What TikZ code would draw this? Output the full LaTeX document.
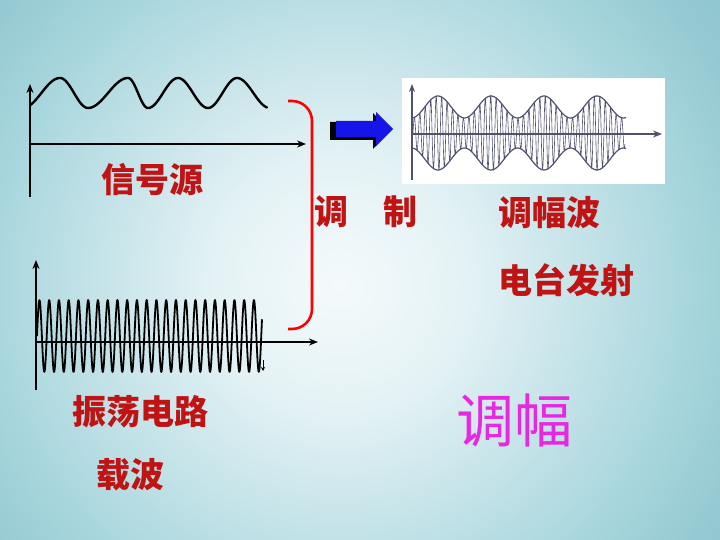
\documentclass[tikz,border=0pt]{standalone}
\usepackage{fontspec}
\newfontfamily\cjk{Noto Sans CJK SC}
\definecolor{bgteal}{RGB}{80,165,175}
\definecolor{bgA}{RGB}{244,250,251}
\definecolor{bgB}{RGB}{228,242,245}
\definecolor{bgC}{RGB}{170,215,222}
\definecolor{bgD}{RGB}{150,202,210}
\definecolor{bgE}{RGB}{135,193,202}
\definecolor{bgF}{RGB}{95,175,185}
\definecolor{txtred}{RGB}{192,20,20}
\definecolor{amgray}{RGB}{80,80,112}
\definecolor{mag}{RGB}{232,40,225}
\definecolor{arrblue}{RGB}{20,20,235}
\usetikzlibrary{arrows.meta}
\pgfdeclareradialshading{bgshade}{\pgfpoint{0bp}{0bp}}{color(0bp)=(bgA); color(3.5bp)=(bgB); color(9.5bp)=(bgC); color(12bp)=(bgD); color(15bp)=(bgE); color(21.5bp)=(bgF); color(25bp)=(bgteal); color(50bp)=(bgteal)}
\tikzset{
  axis/.style={line width=1.6pt, -{Stealth[length=9pt,width=7pt]}},
  wave/.style={line width=2pt, line join=round, line cap=round},
  lbl/.style={text=txtred, font=\cjk\bfseries\fontsize{34}{34}\selectfont, inner sep=0pt},
}
\begin{document}
\begin{tikzpicture}[x=1pt,y=-1pt]
\useasboundingbox (0,0) rectangle (720,540);
\begin{scope}
\clip (0,0) rectangle (720,540);
\fill[bgteal] (0,0) rectangle (720,540);
\shade[shading=bgshade] (340,285) circle (900);
\end{scope}

% signal source
\draw[axis] (30,197) -- (30,84);
\draw[axis] (30,144) -- (306,144);
\draw[wave, line width=2.4pt]
  plot[domain=35:180, samples=30] ({30+30*(\x-35)/145},{93+15*cos(\x)})
  -- plot[domain=0:180, samples=30] ({60+28*\x/180},{93-15*cos(\x)})
  -- plot[domain=0:180, samples=30] ({88+40*\x/180},{93+15*cos(\x)})
  -- plot[domain=0:180, samples=30] ({128+20*\x/180},{93-15*cos(\x)})
  -- plot[domain=0:180, samples=30] ({148+30*\x/180},{93+15*cos(\x)})
  -- plot[domain=0:180, samples=30] ({178+30*\x/180},{93-15*cos(\x)})
  -- plot[domain=0:180, samples=30] ({208+29*\x/180},{93+15*cos(\x)})
  -- plot[domain=0:165, samples=30] ({237+30*\x/165},{93-15*cos(\x)});
\node[lbl] (sig) at (152,180) {信号源};

% carrier
\draw[axis] (36,390) -- (36,260);
\draw[axis] (36,342) -- (318,342);
\draw[line width=1.8pt, line join=round] plot[domain=37:262, samples=600] (\x,{336-36*sin((\x-37)/9.75*360)});
\coordinate (ce0) at (263,360);
\coordinate (ce1) at (263,371);
\draw[line width=1pt, -{Stealth[length=4pt,width=4pt]}] (ce0) -- (ce1);
\node[lbl] (osc) at (140,412) {振荡电路};
\node[lbl] (car) at (130,475) {载波};

% red bracket
\draw[red, line width=2.6pt, rounded corners=20pt] (288,101) -- (312,101) -- (312,329) -- (288,329);

\node[lbl] (t1) at (331,212) {调};
\node[lbl] (t2) at (400,212) {制};

% blue arrow
\fill[black] (330,122) -- (373,122) -- (373,113) -- (390,131) -- (373,149) -- (373,140) -- (330,140) -- cycle;
\fill[arrblue] (336,121) -- (376,121) -- (376,112) -- (393,129) -- (376,146) -- (376,137) -- (336,137) -- cycle;

% AM box
\fill[white] (402,78) rectangle (665,184);
\draw[amgray, line width=1.2pt, -{Stealth[length=8pt,width=6pt]}] (412,180) -- (412,84);
\draw[amgray, line width=1.2pt, -{Stealth[length=9pt,width=7pt]}] (412,134) -- (662,134);
\draw[amgray, line width=0.6pt] plot[domain=413:625, samples=1100] (\x,{133-(26+11*cos((\x-438)/53*360))*sin((\x-413)*66)});
\draw[amgray, line width=1.2pt] plot[domain=413:626, samples=150] (\x,{133-(26+11*cos((\x-438)/53*360))});
\draw[amgray, line width=1.2pt] plot[domain=413:626, samples=150] (\x,{133+(26+11*cos((\x-438)/53*360))});

\node[lbl] (amw) at (549,213) {调幅波};
\node[lbl] (tx) at (566,280) {电台发射};
\node[text=mag, font=\cjk\fontsize{58}{58}\selectfont, inner sep=0pt] (am) at (514,420) {调幅};
\end{tikzpicture}
\end{document}
